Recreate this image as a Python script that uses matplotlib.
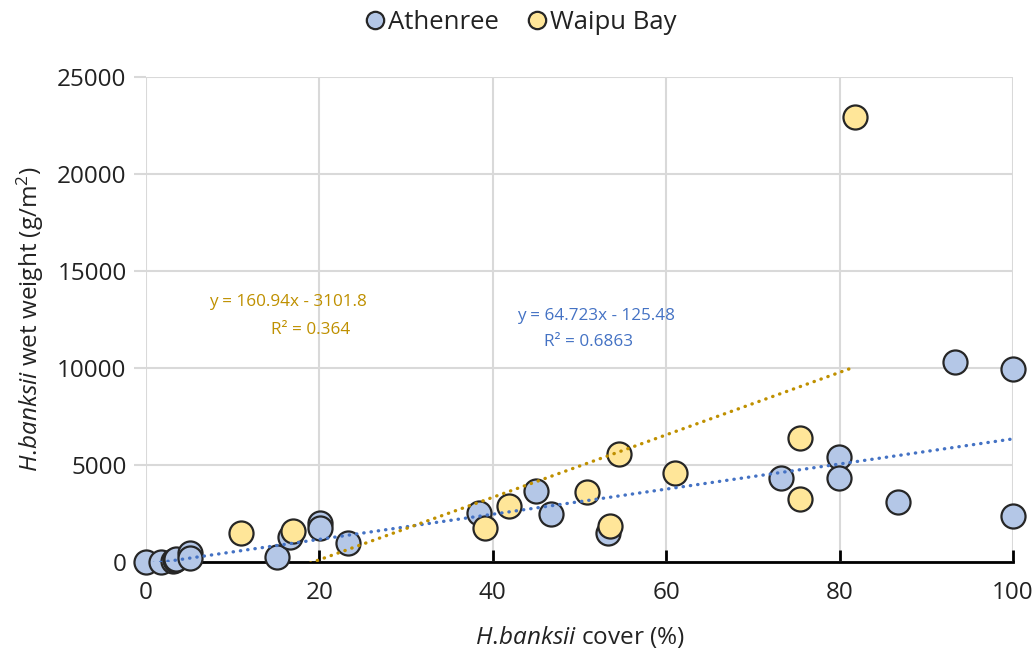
import matplotlib.pyplot as plt
from matplotlib.lines import Line2D

plt.rcParams["font.family"] = ["Open Sans", "DejaVu Sans"]
plt.rcParams["mathtext.fontset"] = "custom"
plt.rcParams["mathtext.rm"] = "Open Sans"
plt.rcParams["mathtext.it"] = "Open Sans:italic"

# Athenree samples: cover (%) vs wet weight (g/m2)
athenree_cover = [0, 1.7, 3.1, 3.3, 3.5, 5.1, 5.1, 15.1, 16.6, 20.1, 20.1, 23.3,
                  38.4, 45.0, 46.7, 53.3, 73.3, 79.9, 79.9, 86.7, 93.3, 100, 100]
athenree_weight = [0, 0, 50, 100, 150, 450, 190, 250, 1300, 2030, 1740, 1000,
                   2540, 3660, 2470, 1510, 4310, 5400, 4310, 3110, 10320, 9930, 2370]

# Waipu Bay samples
waipu_cover = [11.0, 17.0, 39.1, 41.9, 50.9, 53.5, 54.6, 61.0, 75.4, 75.4, 81.8]
waipu_weight = [1480, 1610, 1770, 2890, 3590, 1870, 5570, 4600, 6370, 3250, 22940]

# trendline coefficients as printed on the chart
ath_slope, ath_icept, ath_r2 = 64.723, -125.48, "0.6863"
wai_slope, wai_icept, wai_r2 = 160.94, -3101.8, "0.364"

BLUE_FILL = "#B4C7E7"
GOLD_FILL = "#FFE699"
BLUE_LINE = "#4472C4"
GOLD_LINE = "#BF9000"
GRID = "#D9D9D9"
TXT = "#222222"

fig = plt.figure(figsize=(10.35, 6.52), dpi=100)
ax = fig.add_axes([0.1411, 0.138, 0.8376, 0.744])

ax.scatter(athenree_cover, athenree_weight, s=300, c=BLUE_FILL, edgecolors="#262626",
           linewidths=1.6, zorder=3, clip_on=False)
ax.scatter(waipu_cover, waipu_weight, s=300, c=GOLD_FILL, edgecolors="#262626",
           linewidths=1.6, zorder=4, clip_on=False)

# linear trendlines over each series' x range
ax_x = [min(athenree_cover), max(athenree_cover)]
wx = [min(waipu_cover), max(waipu_cover)]
dots = (0, (0.1, 2.1))
ax.plot(ax_x, [ath_slope * v + ath_icept for v in ax_x], color=BLUE_LINE, lw=2.4,
        linestyle=dots, dash_capstyle="round", zorder=5)
ax.plot(wx, [wai_slope * v + wai_icept for v in wx], color=GOLD_LINE, lw=2.4,
        linestyle=dots, dash_capstyle="round", zorder=5)

ax.text(16.4, 13400, f"y = {wai_slope}x - {abs(wai_icept)}", color=GOLD_LINE,
        fontsize=12.3, ha="center", va="center")
ax.text(19.0, 11960, f"R² = {wai_r2}", color=GOLD_LINE, fontsize=12.3,
        ha="center", va="center")
ax.text(51.9, 12680, f"y = {ath_slope}x - {abs(ath_icept)}", color=BLUE_LINE,
        fontsize=12.3, ha="center", va="center")
ax.text(51.0, 11340, f"R² = {ath_r2}", color=BLUE_LINE, fontsize=12.3,
        ha="center", va="center")

ax.set_xlim(0, 100)
ax.set_ylim(0, 25000)
ax.set_xticks(range(0, 101, 20))
ax.set_yticks(range(0, 25001, 5000))
ax.grid(True, color=GRID, lw=1.5, zorder=0)
ax.set_axisbelow(True)

for side in ["top", "right", "left"]:
    ax.spines[side].set_visible(False)
ax.spines["bottom"].set_color("black")
ax.spines["bottom"].set_linewidth(2)
ax.spines["bottom"].set_zorder(2)

ax.tick_params(axis="x", direction="in", length=9, width=2, color="black",
               labelsize=17.5, labelcolor=TXT, pad=14)
ax.tick_params(axis="y", direction="out", length=9, width=1.5, color=GRID,
               labelsize=17.5, labelcolor=TXT, pad=5)

ax.set_xlabel(r"$\mathit{H.\!banksii}$ cover (%)", fontsize=17.5, color=TXT, labelpad=13)
ax.set_ylabel(r"$\mathit{H.\!banksii}$ wet weight (g/m$^2$)", fontsize=17.5, color=TXT,
              labelpad=8)

handles = [
    Line2D([], [], marker="o", ls="none", markersize=12.5, markerfacecolor=BLUE_FILL,
           markeredgecolor="#262626", markeredgewidth=1.6, label="Athenree"),
    Line2D([], [], marker="o", ls="none", markersize=12.5, markerfacecolor=GOLD_FILL,
           markeredgecolor="#262626", markeredgewidth=1.6, label="Waipu Bay"),
]
leg = fig.legend(handles=handles, loc="center", bbox_to_anchor=(0.502, 0.966), ncol=2,
                 frameon=False, fontsize=18.5, handletextpad=0.0, columnspacing=1.0,
                 handlelength=1.0)
for t in leg.get_texts():
    t.set_color(TXT)

fig.savefig("out.png", dpi=100)
